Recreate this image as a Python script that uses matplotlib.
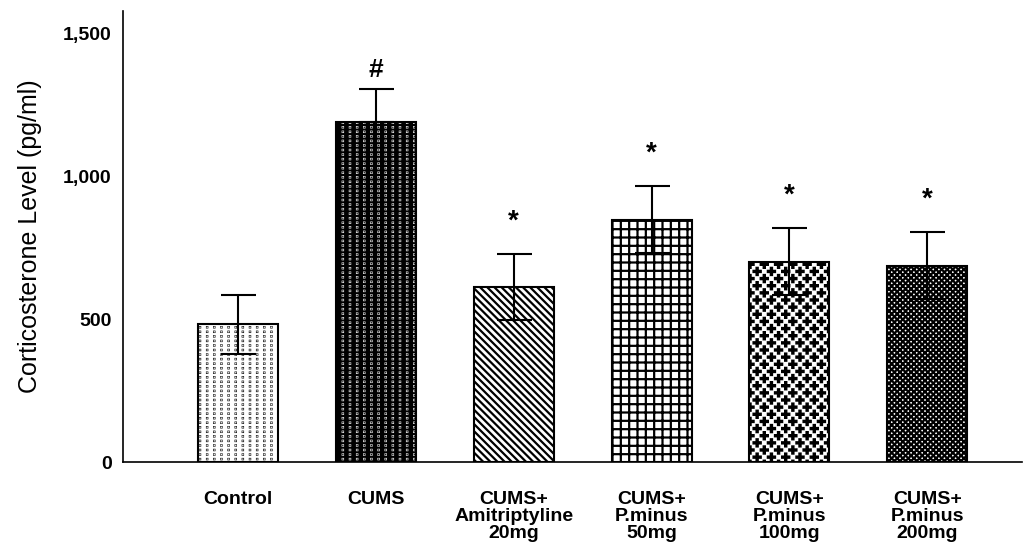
import numpy as np
import matplotlib
matplotlib.use('Agg')
import matplotlib.pyplot as plt
import matplotlib.hatch as mhatch
from matplotlib.path import Path

# ---- data ----
groups = ['Control', 'CUMS', 'CUMS+\nAmitriptyline\n20mg', 'CUMS+\nP.minus\n50mg',
          'CUMS+\nP.minus\n100mg', 'CUMS+\nP.minus\n200mg']
means = [481, 1189, 612, 848, 701, 687]
sem = [103, 115, 115, 117, 117, 117]
marks = ['', '#', '*', '*', '*', '*']
y_ticks = [0, 500, 1000, 1500]
y_tick_labels = ['0', '500', '1,000', '1,500']

# ---- bar styles ----
hatches = ['.', '.', '\\\\', '++', '*', 'xxxxxx']
face = ['white', 'black', 'white', 'white', 'white', 'white']
hatch_col = ['black', 'white', 'black', 'black', 'black', 'black']


# ---- hatch patterns closer to the SPSS fills ----
class DotGrid(mhatch.HatchPatternBase):
    # aligned dots, 14 columns x 22 rows per inch
    def __init__(self, hatch, density):
        n = hatch.count('.')
        self.nx, self.ny = 14 * n, 22 * n
        self.num_vertices = (self.nx + 1) * (self.ny + 1) * 5 if n else 0

    def set_vertices_and_codes(self, vertices, codes):
        s = 0.001
        sq = np.array([[-s, -s], [s, -s], [s, s], [-s, s], [-s, -s]])
        pts = [sq + [i / self.nx, j / self.ny]
               for j in range(self.ny + 1) for i in range(self.nx + 1)]
        vertices[:] = np.concatenate(pts)
        codes[:] = np.tile([Path.MOVETO, Path.LINETO, Path.LINETO, Path.LINETO,
                            Path.CLOSEPOLY], len(pts))


class PlusLattice(mhatch.HatchPatternBase):
    # staggered plus signs
    def __init__(self, hatch, density):
        n = hatch.count('*')
        self.centres = []
        if n:
            nx, ny = 7 * n, 14 * n
            for j in range(ny + 1):
                if j % 2 == 0:
                    xs = np.arange(nx + 1) / nx
                else:
                    xs = (np.arange(nx) + 0.5) / nx
                self.centres += [(xx, j / ny) for xx in xs]
        self.num_vertices = len(self.centres) * 13

    def set_vertices_and_codes(self, vertices, codes):
        a, w = 0.036, 0.006
        plus = np.array([(-w, -a), (w, -a), (w, -w), (a, -w), (a, w), (w, w), (w, a),
                         (-w, a), (-w, w), (-a, w), (-a, -w), (-w, -w), (-w, -a)])
        vertices[:] = np.concatenate([plus + c for c in self.centres])
        one = [Path.MOVETO] + [Path.LINETO] * 11 + [Path.CLOSEPOLY]
        codes[:] = np.tile(one, len(self.centres))


class BackslashHatch(mhatch.SouthEastHatch):
    # denser backslash lines
    def __init__(self, hatch, density):
        self.num_lines = int(hatch.count('\\') * 14
                             + (hatch.count('x') + hatch.count('X')) * density)
        self.num_vertices = (self.num_lines + 1) * 2 if self.num_lines else 0


swap = {mhatch.SmallFilledCircles: DotGrid, mhatch.Stars: PlusLattice,
        mhatch.SouthEastHatch: BackslashHatch}
mhatch._hatch_types = [swap.get(t, t) for t in mhatch._hatch_types]

plt.rcParams['font.family'] = ['Liberation Sans', 'DejaVu Sans']
plt.rcParams['hatch.linewidth'] = 1.6

fig = plt.figure(figsize=(10.3, 5.42), dpi=100)
ax = fig.add_axes([0.1194, 0.1476, 0.873, 0.832])

x = np.arange(len(groups))
for i in range(len(groups)):
    ax.bar(x[i], means[i], width=0.58, color=face[i], hatch=hatches[i],
           edgecolor=hatch_col[i], linewidth=0, zorder=2)
ax.bar(x, means, width=0.58, fill=False, edgecolor='black', linewidth=1.5, zorder=3)

# the lower half of the bar is lost inside the solid black bar
lower = [e if f == 'white' else 0 for e, f in zip(sem, face)]
ax.errorbar(x, means, yerr=[lower, sem], fmt='none', ecolor='black', elinewidth=1.5,
            capsize=12.6, capthick=1.5, zorder=4)

mark_offset = {'#': 5, '*': 14}
mark_size = {'#': 19, '*': 20}
for xi, m, e, s in zip(x, means, sem, marks):
    if s:
        ax.annotate(s, (xi, m + e), xytext=(0, mark_offset[s]), textcoords='offset points',
                    ha='center', va='bottom', fontsize=mark_size[s], fontweight='bold')

ax.set_xlim(-0.832, 5.687)
ax.set_ylim(0, 1577)
ax.set_xticks(x, groups)
ax.set_yticks(y_ticks, y_tick_labels)
ax.tick_params(axis='x', length=0, pad=21, labelsize=14)
ax.tick_params(axis='y', length=0, pad=8, labelsize=14)
for lbl in ax.get_xticklabels() + ax.get_yticklabels():
    lbl.set_fontweight('bold')
for lbl in ax.get_xticklabels():
    lbl.set_linespacing(1.0)

ax.set_ylabel('Corticosterone Level (pg/ml)', fontsize=18, labelpad=15)
ax.spines['top'].set_visible(False)
ax.spines['right'].set_visible(False)
ax.spines['left'].set_linewidth(1.2)
ax.spines['bottom'].set_linewidth(1.2)

fig.savefig('out.png', dpi=100)
